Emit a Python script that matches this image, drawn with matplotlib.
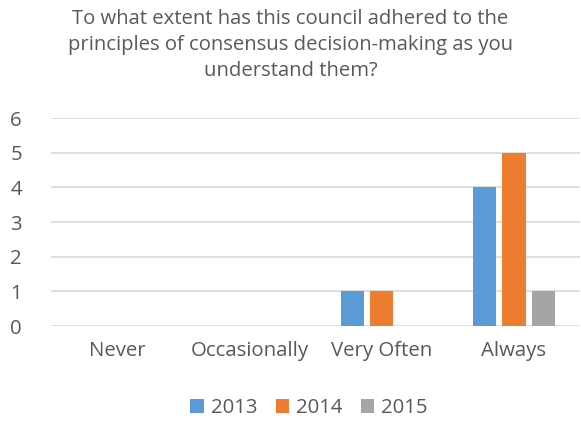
import numpy as np
import matplotlib
matplotlib.use("Agg")
import matplotlib.pyplot as plt

categories = ["Never", "Occasionally", "Very Often", "Always"]
years = ["2013", "2014", "2015"]
values_2013 = [0, 0, 1, 4]
values_2014 = [0, 0, 1, 5]
values_2015 = [0, 0, 0, 1]
colors = ["#5B9BD5", "#ED7D31", "#A5A5A5"]

plt.rcParams["font.family"] = ["Open Sans", "DejaVu Sans"]

fig = plt.figure(figsize=(5.81, 4.24), dpi=100)
ax = fig.add_axes([51 / 581, 1 - 326 / 424, 529 / 581, 208 / 424])

x = np.arange(len(categories))
width = 0.177
step = 0.222
for i, (vals, yr) in enumerate(zip([values_2013, values_2014, values_2015], years)):
    v = np.array(vals, dtype=float)
    # Excel does not draw zero-height bars
    ax.bar(x + (i - 1) * step, np.where(v > 0, v, np.nan), width, color=colors[i], label=yr)

ax.set_xlim(-0.5, 3.5)
ax.set_ylim(0, 6)
ax.set_yticks(range(7))
ax.set_xticks(x)
ax.set_xticklabels(categories)
ax.yaxis.grid(True, color="#D9D9D9", linewidth=1.2)
ax.set_axisbelow(True)
for s in ax.spines.values():
    s.set_visible(False)
ax.tick_params(length=0, labelsize=14.7, colors="#595959")
ax.tick_params(axis="y", pad=21)
ax.tick_params(axis="x", pad=11)

fig.text(0.5, 1 - 45 / 424,
         "To what extent has this council adhered to the\nprinciples of consensus decision-making as you\nunderstand them?",
         ha="center", va="center", fontsize=14.6, color="#595959", linespacing=1.38)

fig.legend(loc="center", bbox_to_anchor=(309 / 581, 1 - 408 / 424), ncol=3, frameon=False,
           fontsize=14.7, labelcolor="#595959", handlelength=0.65, handleheight=0.65,
           handletextpad=0.35, columnspacing=0.9)

fig.savefig("out.png", dpi=100)
